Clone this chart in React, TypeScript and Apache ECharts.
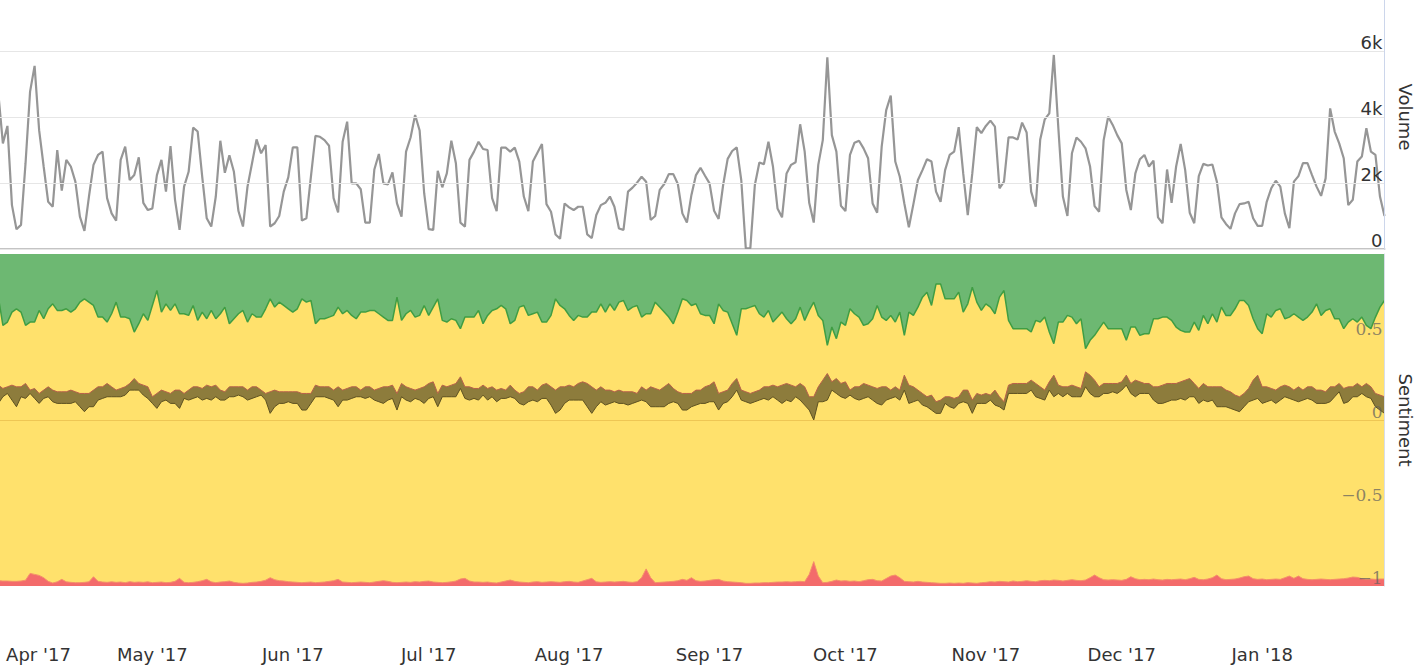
import React, { useEffect, useRef } from 'react';
import * as echarts from 'echarts';

const DAY_COUNT = 307; // 2017-03-28 .. 2018-01-28
const MONTHS = ['Jan', 'Feb', 'Mar', 'Apr', 'May', 'Jun', 'Jul', 'Aug', 'Sep', 'Oct', 'Nov', 'Dec'];

const volume = [
  4700, 3200, 3730, 1330, 600, 730, 2600, 4770, 5550, 3600,
  2500, 1430, 1280, 3000, 1770, 2700, 2500, 2040, 980, 550,
  1590, 2550, 2850, 2950, 1540, 1080, 860, 2700, 3100, 2090,
  2240, 2780, 1400, 1180, 1230, 2240, 2700, 1740, 3120, 1490,
  580, 1890, 2340, 3680, 3560, 2190, 930, 680, 1590, 3280,
  2310, 2840, 2340, 1150, 680, 1890, 2600, 3320, 2900, 3150,
  680, 780, 1000, 1740, 2170, 3080, 3080, 860, 930, 2190,
  3430, 3400, 3300, 3130, 1540, 1110, 3250, 3860, 1990, 1990,
  1810, 800, 800, 2410, 2880, 1990, 1960, 2320, 1380, 980,
  2950, 3380, 4060, 3590, 1690, 600, 580, 2370, 1870, 2290,
  3280, 2600, 800, 680, 2700, 2950, 3250, 3030, 3000, 1540,
  1150, 3070, 3070, 2950, 3070, 2650, 1590, 1150, 2650, 2920,
  3180, 1360, 1130, 440, 310, 1380, 1260, 1180, 1280, 1280,
  440, 330, 1030, 1330, 1400, 1590, 1280, 620, 580, 1740,
  1860, 2010, 2190, 2040, 880, 1000, 1790, 1970, 2270, 2270,
  1970, 1080, 800, 1640, 2240, 2460, 2220, 1990, 1160, 910,
  1940, 2730, 2970, 3080, 2090, 20, 20, 1940, 2620, 2570,
  3250, 2500, 1230, 960, 2290, 2550, 2630, 3780, 2950, 1400,
  800, 2550, 3300, 5810, 3450, 2950, 1310, 1150, 2850, 3220,
  3280, 3050, 2750, 1380, 1100, 3100, 4210, 4650, 2650, 2190,
  1380, 660, 1360, 2090, 2390, 2720, 2650, 1740, 1430, 2390,
  2850, 2950, 3690, 2290, 1030, 2290, 3690, 3510, 3730, 3890,
  3710, 1840, 2040, 3380, 3380, 3320, 3830, 3530, 1740, 1280,
  3320, 3930, 4110, 5880, 3660, 1590, 1000, 2900, 3380, 3250,
  3050, 2500, 1300, 1130, 3300, 4010, 3760, 3450, 3200, 1790,
  1180, 2290, 2720, 2850, 2500, 2680, 960, 780, 2410, 1400,
  2500, 3180, 2390, 1100, 780, 2210, 2580, 2530, 2560, 2040,
  960, 760, 610, 1080, 1360, 1380, 1430, 930, 700, 700,
  1430, 1840, 2070, 1890, 1080, 630, 2040, 2210, 2600, 2600,
  2240, 1890, 1610, 2140, 4260, 3560, 3200, 2750, 1330, 1490,
  2650, 2800, 3660, 2950, 2850, 1590, 1000,
];

// boundary between positive (green) and neutral (yellow) shares
const positiveEdge = [
  0.74, 0.57, 0.59, 0.65, 0.67, 0.65, 0.57, 0.59, 0.59, 0.66,
  0.61, 0.67, 0.70, 0.66, 0.66, 0.67, 0.65, 0.67, 0.71, 0.73,
  0.71, 0.69, 0.62, 0.62, 0.59, 0.64, 0.71, 0.62, 0.62, 0.61,
  0.53, 0.58, 0.64, 0.60, 0.69, 0.78, 0.65, 0.70, 0.66, 0.70,
  0.64, 0.64, 0.63, 0.69, 0.60, 0.65, 0.61, 0.66, 0.61, 0.64,
  0.68, 0.58, 0.61, 0.64, 0.66, 0.59, 0.64, 0.62, 0.62, 0.67,
  0.73, 0.68, 0.71, 0.69, 0.67, 0.65, 0.67, 0.73, 0.71, 0.72,
  0.58, 0.61, 0.61, 0.62, 0.63, 0.68, 0.64, 0.66, 0.63, 0.61,
  0.65, 0.65, 0.66, 0.66, 0.64, 0.62, 0.60, 0.60, 0.74, 0.60,
  0.64, 0.66, 0.62, 0.63, 0.69, 0.63, 0.68, 0.73, 0.60, 0.59,
  0.61, 0.60, 0.55, 0.62, 0.62, 0.62, 0.66, 0.58, 0.63, 0.66,
  0.67, 0.69, 0.67, 0.58, 0.60, 0.68, 0.69, 0.63, 0.64, 0.65,
  0.59, 0.59, 0.63, 0.73, 0.69, 0.67, 0.63, 0.60, 0.63, 0.62,
  0.62, 0.65, 0.65, 0.70, 0.65, 0.70, 0.66, 0.71, 0.72, 0.66,
  0.68, 0.69, 0.62, 0.64, 0.64, 0.71, 0.68, 0.65, 0.62, 0.58,
  0.65, 0.73, 0.72, 0.69, 0.70, 0.64, 0.63, 0.63, 0.58, 0.70,
  0.66, 0.65, 0.58, 0.51, 0.67, 0.67, 0.68, 0.69, 0.64, 0.62,
  0.66, 0.59, 0.62, 0.65, 0.61, 0.58, 0.61, 0.68, 0.60, 0.66,
  0.71, 0.63, 0.60, 0.45, 0.56, 0.49, 0.59, 0.57, 0.67, 0.64,
  0.62, 0.57, 0.58, 0.61, 0.69, 0.62, 0.60, 0.63, 0.59, 0.65,
  0.51, 0.65, 0.63, 0.68, 0.74, 0.77, 0.69, 0.82, 0.82, 0.73,
  0.73, 0.73, 0.77, 0.65, 0.70, 0.80, 0.71, 0.66, 0.70, 0.68,
  0.64, 0.74, 0.78, 0.60, 0.55, 0.55, 0.55, 0.55, 0.53, 0.60,
  0.59, 0.62, 0.53, 0.46, 0.59, 0.59, 0.63, 0.62, 0.58, 0.61,
  0.43, 0.48, 0.51, 0.55, 0.59, 0.55, 0.55, 0.55, 0.55, 0.48,
  0.56, 0.56, 0.51, 0.52, 0.52, 0.61, 0.61, 0.62, 0.62, 0.60,
  0.56, 0.54, 0.53, 0.53, 0.59, 0.54, 0.63, 0.58, 0.64, 0.59,
  0.68, 0.63, 0.63, 0.67, 0.72, 0.72, 0.69, 0.61, 0.55, 0.52,
  0.64, 0.62, 0.66, 0.67, 0.61, 0.62, 0.64, 0.62, 0.60, 0.62,
  0.65, 0.70, 0.63, 0.66, 0.67, 0.61, 0.61, 0.55, 0.59, 0.61,
  0.59, 0.62, 0.57, 0.55, 0.62, 0.68, 0.72,
];

// boundary between neutral (yellow) and negative (red) shares
const negativeEdge = [
  -0.968, -0.970, -0.970, -0.972, -0.972, -0.970, -0.965, -0.924, -0.930, -0.936,
  -0.950, -0.972, -0.982, -0.975, -0.960, -0.975, -0.978, -0.980, -0.980, -0.978,
  -0.975, -0.944, -0.972, -0.976, -0.978, -0.975, -0.978, -0.976, -0.980, -0.974,
  -0.978, -0.976, -0.978, -0.975, -0.980, -0.978, -0.976, -0.980, -0.978, -0.972,
  -0.954, -0.978, -0.980, -0.978, -0.974, -0.968, -0.960, -0.975, -0.980, -0.976,
  -0.974, -0.970, -0.978, -0.982, -0.984, -0.982, -0.978, -0.976, -0.972, -0.965,
  -0.950, -0.962, -0.968, -0.970, -0.974, -0.976, -0.978, -0.980, -0.978, -0.976,
  -0.980, -0.978, -0.976, -0.972, -0.968, -0.960, -0.976, -0.978, -0.980, -0.978,
  -0.976, -0.978, -0.980, -0.976, -0.972, -0.968, -0.972, -0.978, -0.980, -0.978,
  -0.976, -0.978, -0.974, -0.976, -0.972, -0.970, -0.976, -0.978, -0.980, -0.978,
  -0.975, -0.970, -0.958, -0.954, -0.970, -0.976, -0.976, -0.978, -0.976, -0.980,
  -0.982, -0.976, -0.970, -0.964, -0.972, -0.976, -0.978, -0.980, -0.976, -0.974,
  -0.978, -0.976, -0.974, -0.976, -0.978, -0.974, -0.972, -0.976, -0.978, -0.970,
  -0.962, -0.954, -0.975, -0.978, -0.976, -0.974, -0.976, -0.974, -0.972, -0.976,
  -0.978, -0.974, -0.950, -0.897, -0.950, -0.980, -0.978, -0.976, -0.974, -0.972,
  -0.968, -0.960, -0.966, -0.950, -0.968, -0.972, -0.970, -0.966, -0.962, -0.960,
  -0.970, -0.974, -0.976, -0.978, -0.980, -0.984, -0.984, -0.982, -0.982, -0.980,
  -0.980, -0.978, -0.976, -0.976, -0.974, -0.976, -0.974, -0.972, -0.974, -0.930,
  -0.853, -0.940, -0.980, -0.978, -0.972, -0.964, -0.970, -0.968, -0.972, -0.970,
  -0.974, -0.968, -0.962, -0.960, -0.968, -0.970, -0.955, -0.940, -0.934, -0.950,
  -0.972, -0.974, -0.976, -0.972, -0.976, -0.978, -0.980, -0.982, -0.984, -0.984,
  -0.982, -0.984, -0.982, -0.984, -0.980, -0.982, -0.984, -0.980, -0.978, -0.974,
  -0.976, -0.972, -0.974, -0.976, -0.970, -0.974, -0.972, -0.968, -0.972, -0.974,
  -0.968, -0.966, -0.968, -0.964, -0.966, -0.970, -0.966, -0.962, -0.966, -0.968,
  -0.964, -0.950, -0.934, -0.950, -0.962, -0.964, -0.962, -0.964, -0.966, -0.960,
  -0.944, -0.956, -0.962, -0.960, -0.962, -0.958, -0.962, -0.964, -0.960, -0.962,
  -0.960, -0.958, -0.962, -0.956, -0.948, -0.960, -0.962, -0.958, -0.950, -0.934,
  -0.956, -0.962, -0.960, -0.958, -0.952, -0.944, -0.940, -0.956, -0.960, -0.958,
  -0.962, -0.960, -0.958, -0.960, -0.950, -0.940, -0.954, -0.940, -0.956, -0.960,
  -0.962, -0.960, -0.958, -0.960, -0.962, -0.960, -0.958, -0.956, -0.952, -0.946,
  -0.948, -0.956, -0.960, -0.958, -0.960, -0.958, -0.958,
];

// sentiment band (lower / upper edge)
const bandLow = [
  0.10, 0.14, 0.16, 0.12, 0.08, 0.14, 0.13, 0.16, 0.13, 0.10,
  0.13, 0.14, 0.11, 0.10, 0.10, 0.10, 0.10, 0.11, 0.08, 0.05,
  0.08, 0.08, 0.12, 0.13, 0.14, 0.14, 0.14, 0.14, 0.15, 0.18,
  0.18, 0.18, 0.15, 0.13, 0.10, 0.07, 0.11, 0.12, 0.10, 0.10,
  0.07, 0.13, 0.12, 0.13, 0.14, 0.12, 0.13, 0.12, 0.14, 0.12,
  0.12, 0.14, 0.14, 0.15, 0.14, 0.12, 0.13, 0.14, 0.15, 0.12,
  0.04, 0.08, 0.10, 0.10, 0.11, 0.10, 0.10, 0.06, 0.06, 0.10,
  0.14, 0.14, 0.14, 0.13, 0.12, 0.08, 0.12, 0.12, 0.13, 0.14,
  0.14, 0.13, 0.14, 0.12, 0.11, 0.10, 0.12, 0.13, 0.06, 0.14,
  0.12, 0.11, 0.13, 0.12, 0.10, 0.13, 0.14, 0.08, 0.14, 0.14,
  0.14, 0.14, 0.19, 0.13, 0.12, 0.13, 0.12, 0.15, 0.12, 0.14,
  0.11, 0.13, 0.13, 0.14, 0.13, 0.10, 0.09, 0.11, 0.12, 0.11,
  0.13, 0.13, 0.09, 0.04, 0.06, 0.10, 0.12, 0.12, 0.12, 0.12,
  0.08, 0.04, 0.08, 0.11, 0.09, 0.10, 0.11, 0.10, 0.10, 0.09,
  0.10, 0.11, 0.12, 0.11, 0.08, 0.08, 0.08, 0.08, 0.10, 0.11,
  0.10, 0.06, 0.06, 0.08, 0.09, 0.10, 0.10, 0.11, 0.11, 0.06,
  0.10, 0.11, 0.14, 0.18, 0.12, 0.11, 0.10, 0.11, 0.12, 0.13,
  0.12, 0.14, 0.12, 0.10, 0.12, 0.11, 0.14, 0.12, 0.09, 0.06,
  0.00, 0.11, 0.11, 0.12, 0.18, 0.16, 0.14, 0.13, 0.15, 0.13,
  0.12, 0.13, 0.14, 0.12, 0.10, 0.09, 0.12, 0.13, 0.14, 0.12,
  0.18, 0.10, 0.11, 0.12, 0.09, 0.08, 0.06, 0.04, 0.04, 0.10,
  0.08, 0.07, 0.10, 0.11, 0.10, 0.04, 0.10, 0.10, 0.10, 0.12,
  0.09, 0.08, 0.06, 0.16, 0.16, 0.16, 0.16, 0.16, 0.18, 0.14,
  0.13, 0.12, 0.18, 0.14, 0.16, 0.14, 0.16, 0.14, 0.14, 0.14,
  0.20, 0.16, 0.14, 0.14, 0.16, 0.16, 0.17, 0.16, 0.18, 0.21,
  0.16, 0.14, 0.16, 0.16, 0.16, 0.12, 0.10, 0.10, 0.11, 0.12,
  0.12, 0.13, 0.12, 0.14, 0.14, 0.10, 0.12, 0.11, 0.12, 0.08,
  0.08, 0.08, 0.07, 0.06, 0.05, 0.08, 0.11, 0.12, 0.13, 0.10,
  0.11, 0.12, 0.10, 0.12, 0.14, 0.13, 0.12, 0.11, 0.12, 0.13,
  0.12, 0.10, 0.10, 0.10, 0.11, 0.14, 0.17, 0.10, 0.11, 0.14,
  0.14, 0.16, 0.14, 0.13, 0.08, 0.06, 0.04,
];

const bandHigh = [
  0.21, 0.19, 0.20, 0.21, 0.20, 0.20, 0.22, 0.18, 0.19, 0.16,
  0.18, 0.20, 0.18, 0.17, 0.17, 0.17, 0.18, 0.17, 0.16, 0.16,
  0.16, 0.18, 0.20, 0.20, 0.22, 0.20, 0.18, 0.19, 0.20, 0.22,
  0.25, 0.22, 0.21, 0.20, 0.14, 0.16, 0.18, 0.17, 0.16, 0.18,
  0.18, 0.16, 0.18, 0.20, 0.20, 0.19, 0.21, 0.20, 0.21, 0.18,
  0.17, 0.20, 0.20, 0.20, 0.20, 0.18, 0.20, 0.20, 0.18, 0.16,
  0.17, 0.18, 0.17, 0.17, 0.17, 0.17, 0.17, 0.16, 0.16, 0.16,
  0.21, 0.20, 0.20, 0.20, 0.18, 0.20, 0.18, 0.19, 0.20, 0.20,
  0.18, 0.20, 0.20, 0.18, 0.19, 0.20, 0.20, 0.21, 0.16, 0.22,
  0.20, 0.19, 0.18, 0.19, 0.20, 0.22, 0.23, 0.16, 0.21, 0.20,
  0.21, 0.22, 0.26, 0.20, 0.20, 0.19, 0.19, 0.21, 0.19, 0.20,
  0.18, 0.19, 0.18, 0.21, 0.18, 0.16, 0.17, 0.20, 0.20, 0.18,
  0.21, 0.22, 0.20, 0.18, 0.20, 0.20, 0.21, 0.20, 0.22, 0.23,
  0.22, 0.20, 0.18, 0.20, 0.18, 0.18, 0.17, 0.18, 0.17, 0.17,
  0.17, 0.16, 0.20, 0.18, 0.20, 0.19, 0.18, 0.20, 0.22, 0.19,
  0.17, 0.16, 0.16, 0.16, 0.18, 0.18, 0.20, 0.21, 0.23, 0.16,
  0.17, 0.18, 0.22, 0.25, 0.18, 0.17, 0.16, 0.17, 0.18, 0.20,
  0.20, 0.21, 0.20, 0.21, 0.22, 0.21, 0.20, 0.22, 0.20, 0.14,
  0.14, 0.20, 0.24, 0.28, 0.23, 0.25, 0.22, 0.23, 0.18, 0.20,
  0.20, 0.22, 0.21, 0.20, 0.19, 0.20, 0.20, 0.18, 0.20, 0.18,
  0.27, 0.21, 0.20, 0.18, 0.16, 0.14, 0.15, 0.11, 0.12, 0.14,
  0.14, 0.13, 0.14, 0.18, 0.18, 0.12, 0.16, 0.15, 0.16, 0.15,
  0.18, 0.14, 0.11, 0.21, 0.22, 0.22, 0.22, 0.22, 0.24, 0.22,
  0.20, 0.18, 0.23, 0.27, 0.21, 0.20, 0.20, 0.21, 0.20, 0.19,
  0.29, 0.27, 0.24, 0.20, 0.22, 0.22, 0.22, 0.22, 0.23, 0.27,
  0.22, 0.24, 0.23, 0.22, 0.22, 0.20, 0.20, 0.21, 0.22, 0.22,
  0.22, 0.23, 0.24, 0.25, 0.22, 0.19, 0.22, 0.20, 0.20, 0.20,
  0.20, 0.18, 0.17, 0.15, 0.14, 0.16, 0.19, 0.24, 0.27, 0.20,
  0.20, 0.19, 0.18, 0.20, 0.21, 0.20, 0.18, 0.20, 0.18, 0.20,
  0.20, 0.18, 0.18, 0.17, 0.20, 0.20, 0.22, 0.19, 0.20, 0.20,
  0.22, 0.20, 0.22, 0.20, 0.16, 0.15, 0.14,
];

const pad = (n: number) => (n < 10 ? '0' + n : String(n));
const dates: string[] = [];
for (let i = 0; i < DAY_COUNT; i++) {
  const d = new Date(2017, 2, 28 + i);
  dates.push(`${d.getFullYear()}-${pad(d.getMonth() + 1)}-${pad(d.getDate())}`);
}
const isMonthStart = (v: string) => v.endsWith('-01');
const firstMonthStart = dates.find(isMonthStart);

const monthLabel = (v: string) => {
  const [y, m] = v.split('-');
  return `${MONTHS[Number(m) - 1]} '${y.slice(2)}`;
};

const GRID_LEFT = -1.64;
const GRID_RIGHT = 30.5;

export default function App() {
  const ref = useRef<HTMLDivElement>(null);
  useEffect(() => {
    if (!ref.current) return;
    const chart = echarts.init(ref.current, undefined, { renderer: 'svg' });
    const bandSpan = bandHigh.map((h, i) => Math.max(0, +(h - bandLow[i]).toFixed(3)));
    const option: any = {
      animation: false,
      textStyle: { fontFamily: 'DejaVu Sans' },
      grid: [
        { left: GRID_LEFT, right: GRID_RIGHT, top: -15, height: 264, outerBoundsMode: 'none', containLabel: false },
        { left: GRID_LEFT, right: GRID_RIGHT, top: 254, height: 332, outerBoundsMode: 'none', containLabel: false },
      ],
      xAxis: [
        {
          type: 'category', gridIndex: 0, data: dates, boundaryGap: false,
          axisLine: { lineStyle: { color: '#c4c4c4', width: 2 } },
          axisTick: { show: false }, axisLabel: { show: false }, splitLine: { show: false },
        },
        {
          type: 'category', gridIndex: 1, data: dates, boundaryGap: false, offset: 47,
          axisLine: { lineStyle: { color: '#e0cbd7', width: 1 } },
          axisTick: {
            show: true, length: 10, interval: (_i: number, v: string) => isMonthStart(v),
            lineStyle: { color: '#cccccc' },
          },
          axisLabel: {
            interval: (_i: number, v: string) => isMonthStart(v),
            fontSize: 18, color: '#333', margin: 12,
            formatter: (v: string) => {
              const t = monthLabel(v);
              return v === firstMonthStart ? `{shift|${t}}` : t;
            },
            rich: {
              shift: { padding: [0, 0, 0, 44], fontSize: 18, color: '#333', fontFamily: 'DejaVu Sans' },
            },
          },
          splitLine: { show: false },
        },
      ],
      yAxis: [
        {
          type: 'value', gridIndex: 0, position: 'right', min: 0, max: 8000, interval: 2000, z: 10,
          name: 'Volume', nameLocation: 'middle', nameRotate: -90, nameGap: 12,
          nameTextStyle: { fontSize: 18, color: '#333' },
          axisLine: { show: true, lineStyle: { color: '#ccd6eb' } },
          axisTick: { show: false },
          axisLabel: {
            inside: true, margin: 2, verticalAlign: 'bottom', fontSize: 18, color: '#333',
            showMaxLabel: false,
            formatter: (v: number) => (v === 0 ? '0' : `${v / 1000}k`),
          },
          splitLine: { lineStyle: { color: '#e6e6e6' } },
        },
        {
          type: 'value', gridIndex: 1, position: 'right', min: -1, max: 1, interval: 0.5, z: 10,
          name: 'Sentiment', nameLocation: 'middle', nameRotate: -90, nameGap: 12,
          nameTextStyle: { fontSize: 18, color: '#333' },
          axisLine: { show: true, lineStyle: { color: '#d8dde8' } },
          axisTick: { show: false },
          axisLabel: {
            inside: true, margin: 2, verticalAlign: 'bottom', showMaxLabel: false,
            fontFamily: 'DejaVu Serif', fontSize: 17, color: 'rgba(95,95,95,0.72)',
            formatter: (v: number) => (v === 0 ? '0' : v < 0 ? `\u2212${-v}` : String(v)),
          },
          splitLine: { show: false },
        },
      ],
      series: [
        {
          name: 'Volume', type: 'line', xAxisIndex: 0, yAxisIndex: 0, data: volume,
          symbol: 'none', silent: true, lineStyle: { color: '#969696', width: 2.2 },
        },
        {
          name: 'Neutral', type: 'line', xAxisIndex: 1, yAxisIndex: 1, data: positiveEdge,
          symbol: 'none', silent: true, lineStyle: { width: 0 },
          areaStyle: { color: '#FFE16C', opacity: 1, origin: 'start' },
          markLine: {
            silent: true, symbol: 'none', label: { show: false },
            lineStyle: { color: 'rgba(205,150,40,0.35)', width: 1, type: 'solid' },
            data: [{ yAxis: 0 }],
          },
        },
        {
          name: 'Positive', type: 'line', xAxisIndex: 1, yAxisIndex: 1, data: positiveEdge,
          symbol: 'none', silent: true, lineStyle: { color: '#3f9d43', width: 1.5 },
          areaStyle: { color: '#6db872', opacity: 1, origin: 'end' },
        },
        {
          name: 'Negative', type: 'line', xAxisIndex: 1, yAxisIndex: 1, data: negativeEdge,
          symbol: 'none', silent: true, lineStyle: { color: '#f4906a', width: 1 },
          areaStyle: { color: '#F36B6B', opacity: 1, origin: 'start' },
        },
        {
          name: 'Band low', type: 'line', xAxisIndex: 1, yAxisIndex: 1, data: bandLow,
          stack: 'band', stackStrategy: 'all', symbol: 'none', silent: true, z: 4,
          lineStyle: { color: '#5d5120', width: 1 },
        },
        {
          name: 'Band', type: 'line', xAxisIndex: 1, yAxisIndex: 1, data: bandSpan,
          stack: 'band', stackStrategy: 'all', symbol: 'none', silent: true, z: 3,
          lineStyle: { color: '#b8604a', width: 1 },
          areaStyle: { color: '#8d7c3c', opacity: 1 },
        },
      ],
    };
    chart.setOption(option);
    return () => chart.dispose();
  }, []);
  return (
    <div
      ref={ref}
      style={{ position: 'absolute', left: 0, top: 0, width: 1415, height: 666, background: '#fff' }}
    />
  );
}
